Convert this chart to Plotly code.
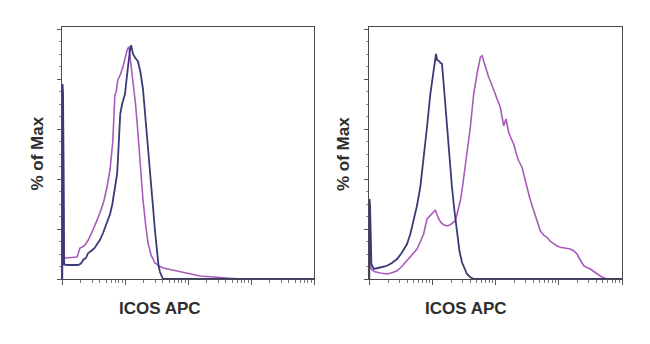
import plotly.graph_objects as go

# ICOS APC intensity (log scale) and % of Max, left panel
left_ctrl_x = [10.1, 10.2, 10.4, 10.8, 12, 15, 18, 20, 22, 24, 26, 29, 33, 37, 40, 45, 50, 55,
               58, 63, 68, 72, 75, 78, 81, 84, 90, 96, 100, 106, 113, 120, 125, 134, 145,
               161, 175, 193, 210, 232, 255, 278, 300, 322, 340, 359, 380, 401, 100000]
left_ctrl_y = [0, 78, 74, 5.8, 5.6, 5.6, 5.6, 6.2, 7.8, 8.4, 10.4, 11.2, 12.4, 14.4, 15.6,
               18.5, 21.5, 24.5, 26, 30, 35, 39, 42, 50, 60, 66, 70, 72, 74, 80, 87, 91.5,
               93.5, 90, 88.5, 87, 83, 76, 65, 51, 40, 29, 19, 10, 5.5, 2.8, 1, 0, 0]

left_stim_x = [10.1, 10.2, 10.4, 10.8, 11.2, 14, 17.3, 19.3, 21, 23.2, 26, 31, 35, 40, 46, 52,
               58, 64, 69, 72, 77, 85, 93, 102, 108, 115, 122, 134, 147, 161, 176, 193, 212,
               232, 260, 299, 350, 401, 480, 578, 760, 964, 1250, 1549, 2500, 4160, 6680,
               100000]
left_stim_y = [0, 76, 70, 9, 8.4, 8.6, 8.8, 12.4, 12.8, 13.6, 15.5, 19.6, 22.5, 26.4, 31, 37,
               44, 55, 73.6, 74.5, 79.6, 82, 85, 89, 91.6, 93, 88, 79, 70, 58, 45, 31.6, 22,
               14.4, 9.5, 6.4, 5.2, 4.4, 4, 3.6, 3, 2.4, 1.8, 1.2, 0.8, 0.4, 0, 0]

# right panel
right_ctrl_x = [10.1, 10.2, 10.4, 10.9, 11.9, 15, 19.3, 23, 27.8, 33, 39.9, 45, 50.8, 57,
                64.7, 73, 82.6, 93.2, 105.5, 114.6, 120, 126.5, 135, 142.6, 151.6, 171, 188,
                205, 225, 246, 270, 295, 325, 354, 400, 452, 100000]
right_ctrl_y = [0, 32, 29, 6, 4, 4.6, 5.3, 6.4, 8, 10.5, 14, 18, 23.3, 29, 36.7, 48, 60.7,
                74, 84.7, 90, 87.5, 87.3, 86.5, 86, 78, 60.7, 48, 36.7, 27, 18, 11, 6.7, 3.8,
                2, 0.7, 0, 0]

right_stim_x = [10.1, 10.2, 10.4, 10.8, 12, 15, 19.3, 23, 27.8, 33, 39.9, 48, 57.4, 65, 73.1,
                82.6, 90, 99, 111.8, 118, 126.5, 138, 151.6, 170, 193, 232, 255, 278, 305,
                334, 365, 400, 452, 510, 576, 612, 650, 691, 735, 780, 850, 935, 1060, 1191,
                1347, 1466, 1616, 1780, 1937, 2140, 2323, 2624, 2880, 3148, 3560, 4015,
                4550, 5110, 5800, 6515, 7400, 8315, 9400, 10600, 12800, 15250, 17200,
                19450, 22000, 24800, 28000, 31600, 35800, 40300, 48000, 58000, 100000]
right_stim_y = [0, 24, 20, 4, 3, 2.4, 2, 2.5, 3.3, 5, 7.3, 9.5, 12, 15, 18, 24, 25, 26, 27.5,
                26, 24, 22.5, 21.7, 21.2, 21.7, 23.3, 27, 31.3, 38, 44.7, 53, 60.7, 74, 82,
                88.7, 89.3, 87, 85.3, 83, 80.7, 78.5, 76, 72, 68.7, 61.3, 64, 58.7, 56, 54,
                50, 47.3, 44.7, 40, 36.7, 31.5, 27.3, 23, 19.3, 17.5, 16.7, 15, 14, 13.2,
                12.7, 12.3, 12, 11.3, 10, 7.5, 5.3, 4.6, 4, 3, 2, 0.8, 0, 0]

CTRL_COLOR = "#3a3a76"
STIM_COLOR = "#a85cba"

fig = go.Figure()

panels = [
    ("x", "y", left_stim_x, left_stim_y, left_ctrl_x, left_ctrl_y),
    ("x2", "y2", right_stim_x, right_stim_y, right_ctrl_x, right_ctrl_y),
]
for xa, ya, sx, sy, cx, cy in panels:
    fig.add_trace(go.Scatter(x=sx, y=sy, xaxis=xa, yaxis=ya, mode="lines",
                             line=dict(color=STIM_COLOR, width=1.6), showlegend=False))
    fig.add_trace(go.Scatter(x=cx, y=cy, xaxis=xa, yaxis=ya, mode="lines",
                             line=dict(color=CTRL_COLOR, width=1.8), showlegend=False))

# log-decade minor tick positions
minor_x = [m * 10 ** e for e in range(1, 5) for m in range(2, 10)]

xaxis_style = dict(
    type="log", range=[1, 5], showgrid=False, zeroline=False,
    showline=True, mirror=True, linecolor="#4a4a4a", linewidth=1.3,
    ticks="outside", ticklen=5, tickcolor="#555555", tickwidth=1.2,
    tickvals=[10, 100, 1000, 10000, 100000], showticklabels=False,
    minor=dict(ticks="outside", ticklen=3, tickcolor="#777777", tickwidth=1,
               tickvals=minor_x),
)
yaxis_style = dict(
    range=[0, 100.8], showgrid=False, zeroline=False,
    showline=True, mirror=True, linecolor="#4a4a4a", linewidth=1.3,
    ticks="outside", ticklen=4, tickcolor="#555555", tickwidth=1.2,
    tickvals=[0, 20, 40, 60, 80, 100], showticklabels=False,
    minor=dict(ticks="outside", ticklen=2, tickcolor="#888888", dtick=5),
)

W, H = 650, 344
fig.update_layout(
    width=W, height=H, margin=dict(l=0, r=0, t=0, b=0),
    paper_bgcolor="white", plot_bgcolor="white",
    xaxis=dict(domain=[62 / W, 314 / W], anchor="y", **xaxis_style),
    yaxis=dict(domain=[(H - 279) / H, (H - 27) / H], anchor="x", **yaxis_style),
    xaxis2=dict(domain=[369 / W, 622 / W], anchor="y2", **xaxis_style),
    yaxis2=dict(domain=[(H - 279) / H, (H - 27) / H], anchor="x2", **yaxis_style),
)

label_font = dict(family="Liberation Sans, Arial, sans-serif", size=17, color="#2e2e2e",
                  weight="bold")
for cx in (159.5, 466):
    fig.add_annotation(text="ICOS APC", x=cx / W, y=(H - 308.5) / H, xref="paper",
                       yref="paper", showarrow=False, font=label_font,
                       xanchor="center", yanchor="middle")
for cx in (36.5, 343):
    fig.add_annotation(text="% of Max", x=cx / W, y=(H - 154) / H, xref="paper",
                       yref="paper", showarrow=False, font=label_font, textangle=-90,
                       xanchor="center", yanchor="middle")

fig.write_html("out.html")
